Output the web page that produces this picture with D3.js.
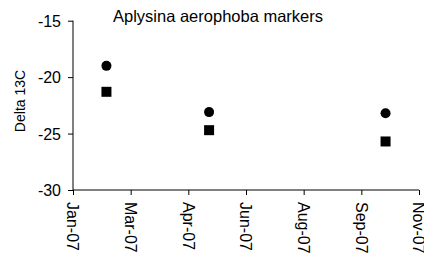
<!DOCTYPE html>
<html>
<head>
<meta charset="utf-8">
<script src="https://cdn.jsdelivr.net/npm/d3@7"></script>
<style>
  body { margin: 0; background: #fff; }
  text { font-family: "Liberation Sans", Arial, sans-serif; fill: #000; }
</style>
</head>
<body>
<div id="chart"></div>
<script>
const width = 424;
const height = 259;

// sampling dates and delta 13C values
const dates = ["2007-02-18", "2007-05-18", "2007-10-18"];
const circleValues = [-19.0, -23.1, -23.2];
const squareValues = [-21.3, -24.7, -25.7];

// axis ticks
const xTicks = ["2007-01-20", "2007-03-11", "2007-04-30", "2007-06-19", "2007-08-08", "2007-09-27", "2007-11-16"];
const yTicks = [-30, -25, -20, -15];

const parse = d3.utcParse("%Y-%m-%d");

const svg = d3.select("#chart")
  .append("svg")
  .attr("width", width)
  .attr("height", height);

svg.append("rect").attr("width", width).attr("height", height).attr("fill", "#fff");

const x = d3.scaleUtc()
  .domain([parse(xTicks[0]), parse(xTicks[xTicks.length - 1])])
  .range([73, 419]);

const y = d3.scaleLinear()
  .domain([-30, -15])
  .range([190, 20.7]);

// y axis
const yAxis = svg.append("g")
  .attr("transform", "translate(73,0)")
  .call(d3.axisLeft(y).tickValues(yTicks).tickSize(5).tickPadding(7).tickFormat(d => String(d)));
yAxis.select(".domain").attr("stroke", "#000").attr("d", `M0,${y(-15)}V${y(-30)}`);
yAxis.selectAll(".tick line").attr("stroke", "#000");
yAxis.selectAll(".tick text").style("font-size", "16px").attr("dy", "0.36em");

// x axis
const xAxis = svg.append("g")
  .attr("transform", "translate(0,190)")
  .call(d3.axisBottom(x).tickValues(xTicks.map(parse)).tickSize(5).tickFormat(d3.utcFormat("%b-%y")));
xAxis.select(".domain").attr("stroke", "#000").attr("d", `M${x.range()[0]},0H${x.range()[1]}`);
xAxis.selectAll(".tick line").attr("stroke", "#000");
xAxis.selectAll(".tick text")
  .style("font-size", "16px")
  .attr("text-anchor", "start")
  .attr("x", 0)
  .attr("y", 0)
  .attr("dy", "0.38em")
  .attr("transform", "translate(0,12) rotate(90)");

// axis title
svg.append("text")
  .attr("transform", "translate(20,101) rotate(-90)")
  .attr("text-anchor", "middle")
  .attr("dy", "0.35em")
  .style("font-size", "14px")
  .text("Delta 13C");

// chart title
svg.append("text")
  .attr("x", 218)
  .attr("y", 22)
  .attr("text-anchor", "middle")
  .style("font-size", "16.5px")
  .text("Aplysina aerophoba markers");

// circle series
svg.selectAll(".circ")
  .data(dates.map((d, i) => ({ date: parse(d), v: circleValues[i] })))
  .enter().append("circle")
  .attr("class", "circ")
  .attr("cx", d => x(d.date))
  .attr("cy", d => y(d.v))
  .attr("r", 5)
  .attr("fill", "#000");

// square series
svg.selectAll(".sq")
  .data(dates.map((d, i) => ({ date: parse(d), v: squareValues[i] })))
  .enter().append("rect")
  .attr("class", "sq")
  .attr("x", d => x(d.date) - 5)
  .attr("y", d => y(d.v) - 5)
  .attr("width", 10)
  .attr("height", 10)
  .attr("fill", "#000");
</script>
</body>
</html>
